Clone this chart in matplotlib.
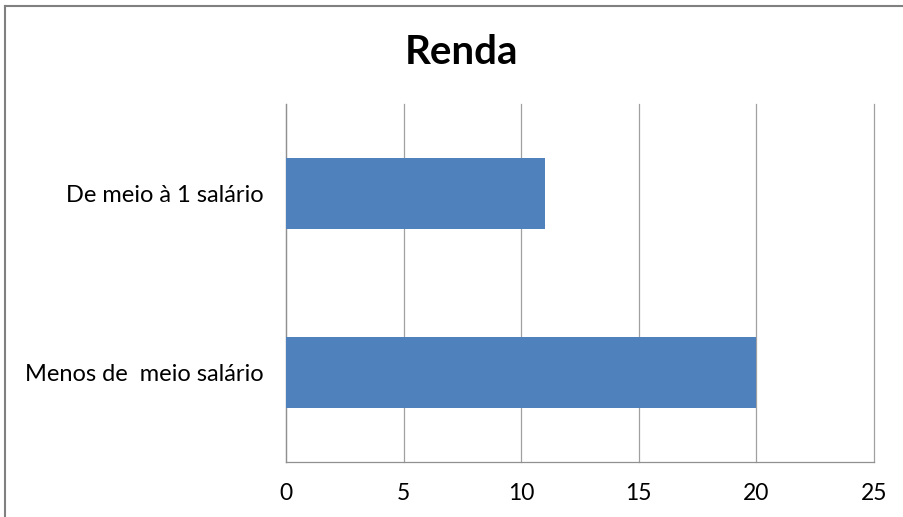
import matplotlib.pyplot as plt
from matplotlib.lines import Line2D

categorias = ['Menos de  meio salário', 'De meio à 1 salário']
valores = [20, 11]
xticks = [0, 5, 10, 15, 20, 25]

plt.rcParams['font.family'] = ['Lato', 'DejaVu Sans']

fig = plt.figure(figsize=(9.04, 5.17), dpi=100)
ax = fig.add_axes([0.3164, 0.1064, 0.6504, 0.6924])

ax.barh(range(len(categorias)), valores, height=0.4, color='#4F81BD', zorder=3)
ax.set_xlim(0, 25)
ax.set_ylim(-0.5, 1.5)
ax.set_xticks(xticks)
ax.set_yticks(range(len(categorias)))
ax.set_yticklabels(categorias, fontsize=17)
ax.tick_params(axis='x', labelsize=16.5, length=0, pad=15)
ax.tick_params(axis='y', length=0, pad=16)
ax.grid(axis='x', color='#A0A0A0', linewidth=0.9, zorder=0)
for gl in ax.get_xgridlines():
    gl.set_clip_on(False)

for s in ['top', 'right']:
    ax.spines[s].set_visible(False)
for s in ['left', 'bottom']:
    ax.spines[s].set_color('#909090')
    ax.spines[s].set_linewidth(0.9)

fig.text(0.51, 0.899, 'Renda', ha='center', va='center', fontsize=29, fontweight='bold')

# chart frame
fig.add_artist(Line2D([0.0055, 1.0], [0.989, 0.989], color='#808080', linewidth=1.5))
fig.add_artist(Line2D([0.0055, 0.0055], [0.0, 0.989], color='#808080', linewidth=1.5))

fig.savefig('out.png', dpi=100)
